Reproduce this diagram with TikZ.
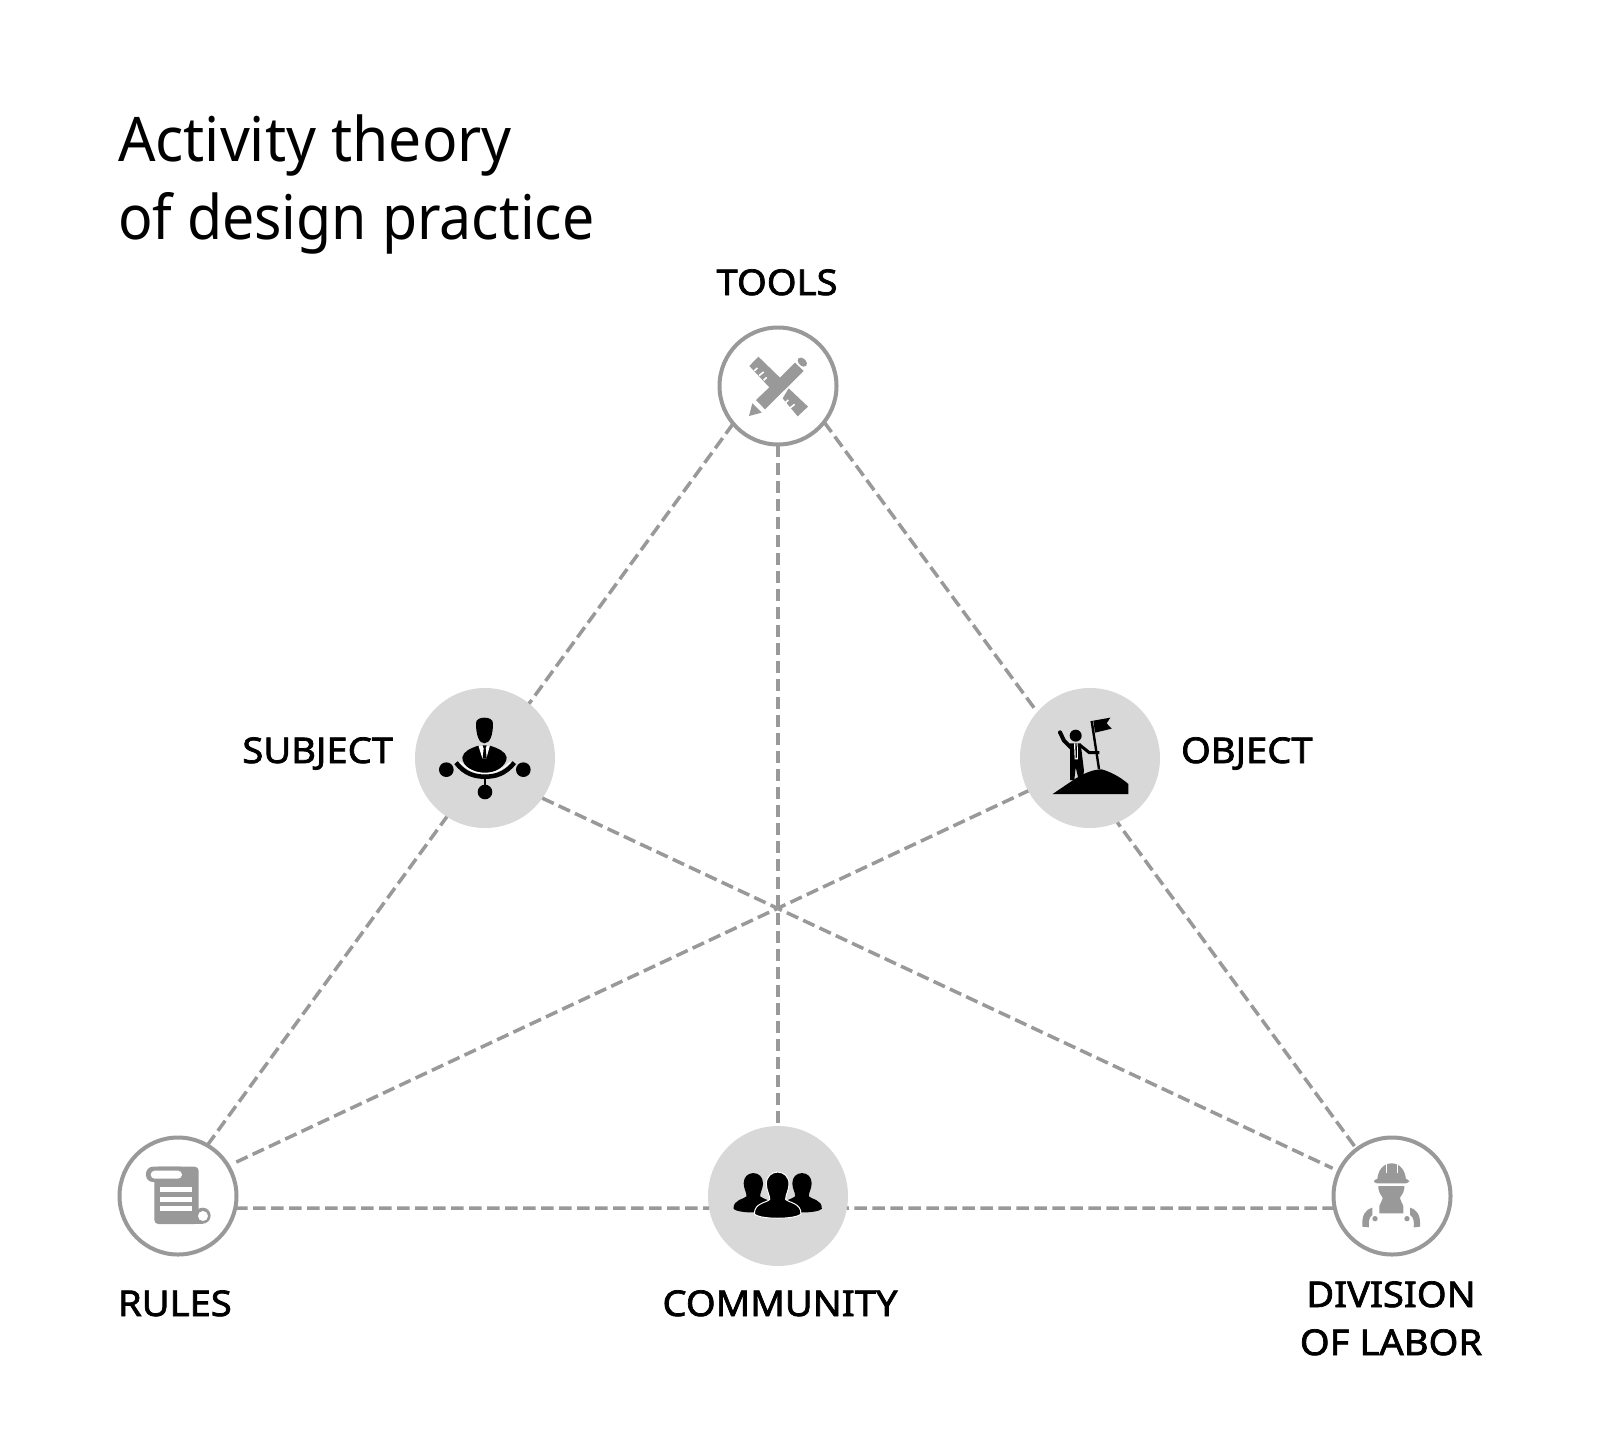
\documentclass[tikz,border=0pt]{standalone}
\usepackage{fontspec}
\setmainfont[FakeStretch=0.955]{Noto Sans}
\newfontfamily\ttlnarrow[FakeStretch=0.93]{Noto Sans}
\newfontfamily\labfont[FakeBold=2,FakeStretch=1.075]{Noto Sans}
\definecolor{ringgray}{HTML}{999999}
\definecolor{discgray}{HTML}{D8D8D8}
\tikzset{
  ring/.style={circle,draw=ringgray,line width=4pt,fill=white,minimum size=117pt,inner sep=0pt,outer sep=0pt},
  disc/.style={circle,fill=discgray,minimum size=140pt,inner sep=0pt,outer sep=0pt},
  link/.style={draw=ringgray,line width=3.5pt,dash pattern=on 12.5pt off 5.5pt},
  lab/.style={inner sep=0pt,outer sep=0pt,font=\labfont\fontsize{35.5}{35.5}\selectfont},
  ttl/.style={inner sep=0pt,outer sep=0pt,anchor=base west,font=\fontsize{61.5}{61.5}\selectfont},
  zoomed/.style={x=0.3333pt,y=-0.3333pt}
}
\begin{document}
\begin{tikzpicture}[x=1pt,y=-1pt]
\useasboundingbox (0,0) rectangle (1600,1430);
\fill[white] (0,0) rectangle (1600,1430);
\node[ttl] (title1) at (118,161) {Activity theory};
\node[ttl] (title2) at (118,239) {\ttlnarrow of design practice};
\node[ring] (tools) at (778,386) {};
\node[disc] (subject) at (485,758) {};
\node[disc] (object) at (1090,758) {};
\node[ring] (rules) at (178,1196) {};
\node[disc] (community) at (778,1196) {};
\node[ring] (division) at (1392,1196) {};
\node[lab,anchor=base] (ltools) at (777,295) {TOOLS};
\node[lab,anchor=base east] (lsubject) at (393,763) {SUBJECT};
\node[lab,anchor=base west] (lobject) at (1181,763) {OBJECT};
\node[lab,anchor=base west] (lrules) at (118,1316) {RULES};
\node[lab,anchor=base] (lcommunity) at (780,1316) {COMMUNITY};
\node[lab,anchor=base] (ldiv1) at (1391,1307) {DIVISION};
\node[lab,anchor=base] (ldiv2) at (1391,1355) {OF LABOR};
% connectors
\draw[link] (tools.220) -- (subject.51);
\draw[link] (rules.60.5) -- (subject.237);
\draw[link] (tools.-38) -- (object.139);
\draw[link,shorten <=4pt] (division.127.2) -- (object.-67.4);
\draw[link,shorten >=7pt] (subject.-35) -- (division.155.6);
\draw[link,shorten <=9pt] (rules.31.3) -- (object.208);
\draw[link] (tools.south) -- (community.north);
\draw[link] (rules.-12.5) -- (community.190.7);
\draw[link] (division.192.5) -- (community.-10.7);
% tools icon
\begin{scope}[shift={(700,310)},zoomed]
\fill[ringgray] (147,318) -- (157,280) -- (185,308) -- cycle;
\fill[ringgray] (148,168) -- (175,140) -- (240,203) -- (285,158) -- (311,183) -- (195,298) -- (168,270) -- (208,232) -- cycle;
\fill[ringgray,rounded corners=4pt] (288,152) -- (303,138) -- (326,160) -- (311,175) -- cycle;
\fill[ringgray] (266,235) -- (324,290) -- (293,319) -- (248,265) -- cycle;
\draw[white,line width=1.6pt] (163,183) -- (172,174) (177,197) -- (191,186) (191,211) -- (200,202) (256,279) -- (265,270) (270,294) -- (284,283);
\end{scope}
% subject icon
\begin{scope}[shift={(405,680)},zoomed]
\fill[black] (213,130) .. controls (213,118) and (225,113) .. (238,113) .. controls (252,113) and (264,118) .. (264,130) .. controls (264,165) and (255,190) .. (238,190) .. controls (222,190) and (213,165) .. (213,130) -- cycle;
\fill[black] (172,232) .. controls (175,215) and (195,205) .. (220,197) -- (255,197) .. controls (280,205) and (302,215) .. (305,232) .. controls (305,258) and (270,280) .. (238,280) .. controls (205,280) and (172,258) .. (172,232) -- cycle;
\fill[white] (220,196) -- (255,196) -- (244,235) -- (232,235) -- cycle;
\fill[black] (233,196) -- (245,196) -- (242,205) -- (245,235) -- (233,235) -- (236,205) -- cycle;
\draw[black,line width=4.5pt] (153,248) .. controls (180,283) and (210,290) .. (240,290) .. controls (270,290) and (300,283) .. (328,248);
\draw[white,line width=1.3pt] (165,246) .. controls (190,272) and (215,280) .. (240,280) .. controls (265,280) and (290,272) .. (316,246);
\draw[black,line width=2.8pt] (240,290) -- (240,320);
\fill[black] (124,269) circle[radius=22];
\fill[black] (355,269) circle[radius=22];
\fill[black] (240,336) circle[radius=22];
\end{scope}
% object icon
\begin{scope}[shift={(1010,680)},zoomed]
\fill[black] (197,167) circle[radius=18];
\draw[black,line width=4pt,line cap=round] (150,157) -- (162,182) -- (187,207);
\fill[black] (180,190) -- (212,190) -- (222,272) -- (220,285) -- (205,295) -- (197,262) -- (193,300) -- (180,300) -- cycle;
\draw[black,line width=3pt] (208,194) -- (238,218) -- (268,218);
\fill[white] (192,190) -- (203,190) -- (204,238) -- (194,238) -- cycle;
\fill[black] (196,190) -- (200,190) -- (201,232) -- (197,235) -- cycle;
\draw[black,line width=2.4pt] (245,123) -- (267,267);
\fill[black] (250,122) -- (301,113) -- (290,130) -- (305,146) -- (255,158) -- cycle;
\fill[black] (128,342) -- (190,300) .. controls (220,280) and (250,268) .. (275,268) .. controls (300,275) and (330,290) .. (355,312) -- (355,342) -- cycle;
\end{scope}
% rules icon
\begin{scope}[shift={(100,1120)},zoomed]
\fill[ringgray,rounded corners=7pt] (138,140) rectangle (260,186);
\fill[ringgray,rounded corners=4pt] (163,140) rectangle (296,312);
\fill[ringgray] (200,290) rectangle (310,312);
\fill[ringgray] (308,287) circle[radius=24];
\fill[white,rounded corners=4pt] (152,152) rectangle (246,176);
\fill[white] (180,201) rectangle (277,217);
\fill[white] (180,230) rectangle (277,245);
\fill[white] (180,258) rectangle (277,273);
\fill[white] (309,288) circle[radius=15];
\end{scope}
% community icon
\begin{scope}[shift={(700,1120)},zoomed]
\def\person#1#2#3#4{%
\path[#4] (#1-#3*1.0,#2-#3*0.15) .. controls (#1-#3*1.0,#2-#3*0.8) and (#1-#3*0.55,#2-#3*1.2) .. (#1,#2-#3*1.2)
 .. controls (#1+#3*0.55,#2-#3*1.2) and (#1+#3*1.0,#2-#3*0.8) .. (#1+#3*1.0,#2-#3*0.15)
 .. controls (#1+#3*1.0,#2+#3*0.4) and (#1+#3*0.7,#2+#3*0.8) .. (#1+#3*0.7,#2+#3*1.2)
 .. controls (#1+#3*0.9,#2+#3*1.5) and (#1+#3*2.1,#2+#3*1.5) .. (#1+#3*2.05,#2+#3*2.5)
 .. controls (#1+#3*1.6,#2+#3*3.0) and (#1-#3*1.6,#2+#3*3.0) .. (#1-#3*2.05,#2+#3*2.5)
 .. controls (#1-#3*2.1,#2+#3*1.5) and (#1-#3*0.9,#2+#3*1.5) .. (#1-#3*0.7,#2+#3*1.2)
 .. controls (#1-#3*0.7,#2+#3*0.8) and (#1-#3*1.0,#2+#3*0.4) .. (#1-#3*1.0,#2-#3*0.15) -- cycle;}
\person{160}{194}{29}{fill=black}
\person{306}{194}{29}{fill=black}
\person{233}{197}{34}{fill=black,draw=white,line width=1pt}
\end{scope}
% division icon
\begin{scope}[shift={(1310,1120)},zoomed]
\fill[ringgray] (202,178) .. controls (204,150) and (220,130) .. (245,130) .. controls (270,130) and (285,150) .. (288,178) -- cycle;
\fill[ringgray,rounded corners=3pt] (192,177) rectangle (297,190);
\draw[white,line width=0.9pt] (229,133) -- (229,158) (261,133) -- (261,158);
\fill[ringgray] (205,198) -- (283,198) -- (283,205) .. controls (280,225) and (270,228) .. (270,235) .. controls (270,245) and (280,250) .. (280,258) -- (280,280) -- (208,280) -- (208,258) .. controls (208,250) and (218,245) .. (218,235) .. controls (218,228) and (208,225) .. (205,205) -- cycle;
\fill[ringgray] (187,263) .. controls (165,270) and (155,285) .. (157,320) -- (177,322) .. controls (175,305) and (177,292) .. (187,285) -- cycle;
\fill[ringgray] (300,263) .. controls (322,270) and (332,285) .. (330,320) -- (311,322) .. controls (313,305) and (311,292) .. (300,285) -- cycle;
\fill[ringgray] (195,296) circle[radius=8];
\fill[ringgray] (291,296) circle[radius=8];
\end{scope}
\end{tikzpicture}
\end{document}
